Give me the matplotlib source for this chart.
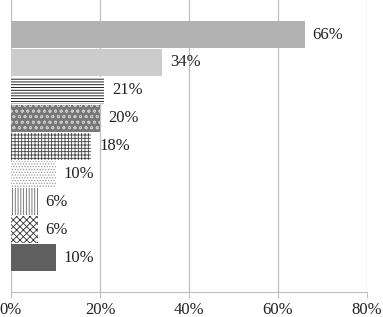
import matplotlib.pyplot as plt
import numpy as np

# bar values, top to bottom (percent)
values = [66, 34, 21, 20, 18, 10, 6, 6, 10]
labels = ['66%', '34%', '21%', '20%', '18%', '10%', '6%', '6%', '10%']
xticks = [0, 20, 40, 60, 80]

# fill / hatch styles for each bar
faces = ['#b2b2b2', '#cccccc', 'white', '#777777', 'white', 'white', 'white', 'white', '#5f5f5f']
edges = ['#b2b2b2', '#cccccc', 'black', '#c8c8c8', '#444444', '#999999', '#666666', '#333333', '#5f5f5f']
hatches = [None, None, '------', 'ooo', '+++++', '......', '||||||', 'xxxxx', None]

plt.rcParams['font.family'] = 'Liberation Serif'
plt.rcParams['hatch.linewidth'] = 0.6

fig = plt.figure(figsize=(3.83, 3.17), dpi=100)
ax = fig.add_axes([11/383, 25/317, 356/383, 292/317])

pos = np.arange(len(values))
for i, (v, fc, ec, h) in enumerate(zip(values, faces, edges, hatches)):
    ax.barh(pos[i], v, height=0.97, color=fc, edgecolor=ec, hatch=h, linewidth=0, zorder=3)
    ax.text(v + 1.8, pos[i], labels[i], va='center', ha='left', fontsize=12, color='#222222', zorder=4)

ax.set_xlim(0, 80)
ax.set_ylim(9.23, -1.24)
ax.set_xticks(xticks)
ax.set_xticklabels([f'{t}%' for t in xticks], fontsize=12, color='#222222')
ax.set_yticks([])
ax.grid(axis='x', color='#bfbfbf', linewidth=0.9, zorder=0)
for s in ['top', 'right', 'left']:
    ax.spines[s].set_visible(False)
ax.spines['bottom'].set_color('#bfbfbf')
ax.tick_params(axis='x', length=4, color='#bfbfbf', pad=3)

fig.savefig('out.png', dpi=100)
